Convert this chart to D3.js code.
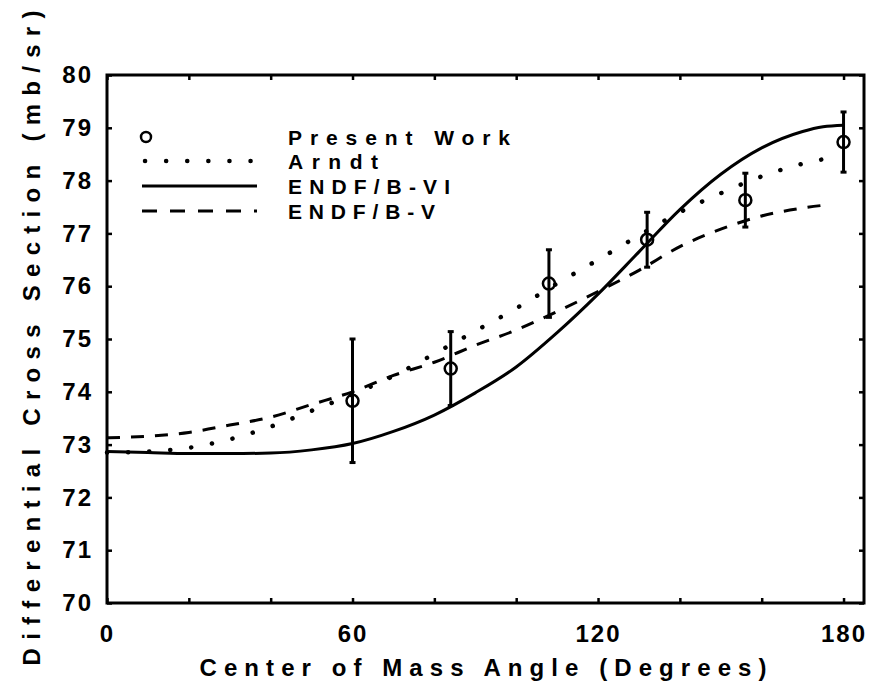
<!DOCTYPE html>
<html>
<head>
<meta charset="UTF-8">
<script src="https://cdnjs.cloudflare.com/ajax/libs/d3/7.8.2/d3.min.js"></script>
<style>
  body { margin: 0; background: #fff; }
  svg { display: block; background: #fff; }
  text { font-family: "Liberation Sans", Arial, sans-serif; font-weight: bold; fill: #000; }
</style>
</head>
<body>
<svg width="873" height="685"></svg>
<script>
// measured points (Present Work)
const ptAngle = [60, 84, 108, 132, 156, 180];
const ptValue = [73.83, 74.44, 76.05, 76.88, 77.63, 78.73];
const ptError = [1.17, 0.70, 0.64, 0.52, 0.51, 0.57];

// ENDF/B-VI (solid)
const b6Angle = [0, 10, 20, 30, 40, 50, 60, 70, 80, 90, 100, 110, 120, 130, 140, 150, 160, 170, 175, 180];
const b6Value = [72.87, 72.85, 72.83, 72.83, 72.84, 72.9, 73.02, 73.25, 73.56, 73.98, 74.47, 75.12, 75.85, 76.65, 77.45, 78.12, 78.62, 78.93, 79.02, 79.05];

// Arndt (dotted)
const arAngle = [0, 10, 20, 30, 40, 50, 60, 70, 80, 90, 100, 110, 120, 130, 140, 150, 160, 170, 176];
const arValue = [72.85, 72.87, 72.94, 73.1, 73.34, 73.64, 73.95, 74.3, 74.72, 75.15, 75.58, 76.05, 76.5, 76.96, 77.4, 77.76, 78.08, 78.32, 78.42];

// ENDF/B-V (dashed)
const b5Angle = [0, 10, 20, 30, 40, 50, 60, 70, 80, 90, 100, 110, 120, 130, 140, 150, 160, 170, 177];
const b5Value = [73.13, 73.16, 73.23, 73.37, 73.52, 73.76, 74.0, 74.31, 74.56, 74.88, 75.17, 75.52, 75.9, 76.3, 76.75, 77.08, 77.33, 77.48, 77.55];

const xTicks = [0, 60, 120, 180];
const yTicks = [70, 71, 72, 73, 74, 75, 76, 77, 78, 79, 80];
const legendNames = ["Present Work", "Arndt", "ENDF/B-VI", "ENDF/B-V"];

const svg = d3.select("svg");
const m = { left: 107, right: 864, top: 75, bottom: 603 };

const x = d3.scaleLinear().domain([0, 185]).range([m.left, m.right]);
const y = d3.scaleLinear().domain([70, 80]).range([m.bottom, m.top]);

// ticks on all four sides, pointing in
const minorX = d3.range(0, 181, 20);
svg.append("g").attr("transform", `translate(0,${m.bottom})`)
  .call(d3.axisBottom(x).tickValues(minorX).tickSize(-5).tickFormat(""));
svg.append("g").attr("transform", `translate(0,${m.top})`)
  .call(d3.axisTop(x).tickValues(minorX).tickSize(-5).tickFormat(""));
svg.append("g").attr("transform", `translate(${m.left},0)`)
  .call(d3.axisLeft(y).tickValues(yTicks).tickSize(-5).tickFormat(""));
svg.append("g").attr("transform", `translate(${m.right},0)`)
  .call(d3.axisRight(y).tickValues(yTicks).tickSize(-5).tickFormat(""));
svg.selectAll(".domain").remove();
svg.selectAll(".tick line").attr("stroke", "#000").attr("stroke-width", 2.5);

// tick labels
const xLab = svg.append("g").attr("transform", `translate(0,${m.bottom})`)
  .call(d3.axisBottom(x).tickValues(xTicks).tickSize(0).tickPadding(22));
const yLab = svg.append("g").attr("transform", `translate(${m.left},0)`)
  .call(d3.axisLeft(y).tickValues(yTicks).tickSize(0).tickPadding(14));
[xLab, yLab].forEach(g => {
  g.select(".domain").remove();
  g.selectAll("text").style("font-size", "24px").attr("letter-spacing", 2)
    .style("font-family", "Liberation Sans, Arial, sans-serif").style("font-weight", "bold");
});

// frame
svg.append("rect").attr("x", m.left).attr("y", m.top)
  .attr("width", m.right - m.left).attr("height", m.bottom - m.top)
  .attr("fill", "none").attr("stroke", "#000").attr("stroke-width", 3);

// axis titles
svg.append("text").attr("x", 483).attr("y", 676).attr("text-anchor", "middle")
  .style("font-size", "24px").attr("textLength", 567).attr("lengthAdjust", "spacing")
  .text("Center of Mass Angle (Degrees)");
svg.append("text").attr("transform", "translate(40,338) rotate(-90)").attr("text-anchor", "middle")
  .style("font-size", "24px").attr("textLength", 655).attr("lengthAdjust", "spacing")
  .text("Differential Cross Section (mb/sr)");

// curves
const line = d3.line().x(d => x(d[0])).y(d => y(d[1])).curve(d3.curveMonotoneX);
const curves = [
  { a: arAngle, v: arValue, dash: "0.1,21", cap: "round", w: 4.5 },
  { a: b6Angle, v: b6Value, dash: null, cap: "butt", w: 3 },
  { a: b5Angle, v: b5Value, dash: "13,11", cap: "butt", w: 3 }
];
curves.forEach(c => {
  svg.append("path").datum(d3.zip(c.a, c.v)).attr("d", line)
    .attr("fill", "none").attr("stroke", "#000").attr("stroke-width", c.w)
    .attr("stroke-linecap", c.cap).attr("stroke-dasharray", c.dash);
});

// error bars and points
const pts = ptAngle.map((a, i) => ({ a, v: ptValue[i], e: ptError[i] }));
const pg = svg.append("g");
pg.selectAll(".bar").data(pts).join("line")
  .attr("x1", d => x(d.a)).attr("x2", d => x(d.a))
  .attr("y1", d => y(d.v - d.e)).attr("y2", d => y(d.v + d.e))
  .attr("stroke", "#000").attr("stroke-width", 3);
pg.selectAll(".capt").data(pts).join("line")
  .attr("x1", d => x(d.a) - 3).attr("x2", d => x(d.a) + 3)
  .attr("y1", d => y(d.v + d.e)).attr("y2", d => y(d.v + d.e))
  .attr("stroke", "#000").attr("stroke-width", 3);
pg.selectAll(".capb").data(pts).join("line")
  .attr("x1", d => x(d.a) - 3).attr("x2", d => x(d.a) + 3)
  .attr("y1", d => y(d.v - d.e)).attr("y2", d => y(d.v - d.e))
  .attr("stroke", "#000").attr("stroke-width", 3);
pg.selectAll("circle").data(pts).join("circle")
  .attr("cx", d => x(d.a)).attr("cy", d => y(d.v)).attr("r", 6)
  .attr("fill", "none").attr("stroke", "#000").attr("stroke-width", 2.5);

// legend
const lg = svg.append("g");
const rowY = [137, 161, 186, 211];
const textLen = [222, 90, 162, 147];
lg.append("circle").attr("cx", 146).attr("cy", rowY[0]).attr("r", 5)
  .attr("fill", "none").attr("stroke", "#000").attr("stroke-width", 2.5);
[curves[0], curves[1], curves[2]].forEach((c, i) => {
  lg.append("line").attr("x1", i === 0 ? 145 : 142).attr("x2", 257)
    .attr("y1", rowY[i + 1]).attr("y2", rowY[i + 1])
    .attr("stroke", "#000").attr("stroke-width", c.w)
    .attr("stroke-linecap", c.cap).attr("stroke-dasharray", i === 2 ? "15,13" : c.dash);
});
legendNames.forEach((n, i) => {
  lg.append("text").attr("x", 288).attr("y", rowY[i] + 8)
    .style("font-size", "21px").attr("textLength", textLen[i]).attr("lengthAdjust", "spacing")
    .text(n);
});
</script>
</body>
</html>
